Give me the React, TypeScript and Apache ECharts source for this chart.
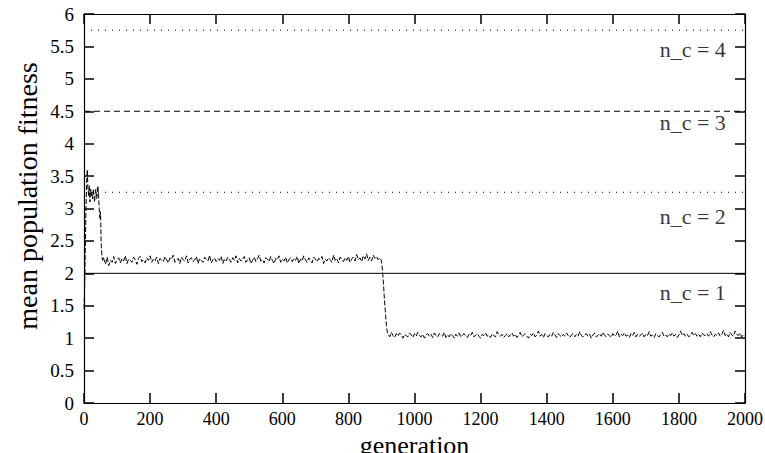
import React, { useEffect, useRef } from "react";
import * as echarts from "echarts";

// early transient (generation, fitness)
const earlyGen = [0, 2, 4, 6, 8, 10, 12, 14, 16, 18, 20, 22, 24, 26, 28, 30, 32, 34, 36, 38, 40, 42, 44, 46, 48, 50, 52, 54, 56, 58];
const earlyFit = [1.45, 1.8, 2.4, 3.0, 3.4, 3.6, 3.3, 3.2, 3.35, 3.1, 3.3, 3.2, 3.25, 3.15, 3.3, 3.2, 3.1, 3.25, 3.3, 3.15, 3.2, 3.35, 3.2, 3.0, 2.85, 2.95, 2.45, 2.3, 2.2, 2.25];

// first plateau, generations 60..895 every 5
const plateau1Start = 60;
const plateau1Step = 5;
const plateau1 = [
  2.22, 2.14, 2.25, 2.12, 2.2, 2.17, 2.26, 2.15, 2.21, 2.24, 2.16, 2.23,
  2.19, 2.27, 2.15, 2.22, 2.2, 2.17, 2.25, 2.21, 2.14, 2.23, 2.26, 2.18,
  2.21, 2.16, 2.24, 2.2, 2.27, 2.17, 2.22, 2.19, 2.25, 2.15, 2.23, 2.2,
  2.18, 2.26, 2.21, 2.16, 2.24, 2.22, 2.28, 2.17, 2.2, 2.23, 2.15, 2.25,
  2.21, 2.19, 2.27, 2.16, 2.22, 2.24, 2.18, 2.21, 2.26, 2.15, 2.23, 2.2,
  2.17, 2.25, 2.22, 2.19, 2.28, 2.16, 2.21, 2.24, 2.18, 2.23, 2.2, 2.26,
  2.15, 2.22, 2.19, 2.25, 2.21, 2.17, 2.24, 2.2, 2.27, 2.16, 2.23, 2.19,
  2.22, 2.26, 2.17, 2.21, 2.24, 2.15, 2.2, 2.25, 2.18, 2.23, 2.28, 2.19,
  2.21, 2.16, 2.24, 2.22, 2.18, 2.26, 2.2, 2.15, 2.23, 2.21, 2.27, 2.17,
  2.22, 2.19, 2.25, 2.16, 2.21, 2.24, 2.18, 2.23, 2.2, 2.26, 2.15, 2.22,
  2.19, 2.27, 2.21, 2.17, 2.24, 2.2, 2.16, 2.25, 2.22, 2.18, 2.23, 2.21,
  2.26, 2.15, 2.22, 2.19, 2.24, 2.21, 2.17, 2.28, 2.2, 2.23, 2.16, 2.25,
  2.21, 2.18, 2.24, 2.2, 2.26, 2.17, 2.22, 2.25, 2.19, 2.29, 2.21, 2.24,
  2.18, 2.27, 2.22, 2.3, 2.2, 2.25, 2.19, 2.28, 2.23, 2.26, 2.21, 2.24,
];

// transition
const dropGen = [900, 903, 906, 909, 912, 915, 918];
const dropFit = [2.2, 2.05, 1.85, 1.6, 1.4, 1.2, 1.08];

// second plateau, generations 920..2000 every 5
const plateau2Start = 920;
const plateau2Step = 5;
const plateau2 = [
  1.06, 1.02, 1.09, 1.04, 1.01, 1.07, 1.03, 1.08, 1.05, 1.0, 1.06, 1.04,
  1.02, 1.08, 1.05, 1.01, 1.07, 1.03, 1.09, 1.04, 1.02, 1.06, 1.0, 1.05,
  1.07, 1.03, 1.06, 1.01, 1.08, 1.04, 1.02, 1.07, 1.05, 1.03, 1.09, 1.01,
  1.05, 1.02, 1.07, 1.04, 1.0, 1.06, 1.03, 1.08, 1.02, 1.05, 1.07, 1.03,
  1.01, 1.06, 1.04, 1.09, 1.02, 1.05, 1.07, 1.03, 1.0, 1.06, 1.04, 1.08,
  1.03, 1.05, 1.01, 1.07, 1.04, 1.02, 1.1, 1.05, 1.03, 1.06, 1.01, 1.04,
  1.07, 1.02, 1.05, 1.08, 1.03, 1.06, 1.01, 1.04, 1.09, 1.02, 1.05, 1.07,
  1.03, 1.0, 1.06, 1.04, 1.08, 1.02, 1.05, 1.11, 1.03, 1.06, 1.01, 1.07,
  1.04, 1.02, 1.06, 1.03, 1.09, 1.05, 1.01, 1.07, 1.04, 1.02, 1.06, 1.03,
  1.08, 1.04, 1.01, 1.05, 1.07, 1.02, 1.06, 1.03, 1.1, 1.04, 1.02, 1.05,
  1.07, 1.03, 1.06, 1.0, 1.05, 1.08, 1.02, 1.04, 1.07, 1.03, 1.09, 1.05,
  1.02, 1.06, 1.04, 1.01, 1.07, 1.03, 1.05, 1.11, 1.02, 1.06, 1.04, 1.08,
  1.03, 1.05, 1.01, 1.07, 1.04, 1.09, 1.02, 1.06, 1.03, 1.05, 1.08, 1.02,
  1.06, 1.04, 1.1, 1.03, 1.05, 1.01, 1.07, 1.04, 1.02, 1.06, 1.09, 1.03,
  1.05, 1.02, 1.07, 1.04, 1.08, 1.03, 1.06, 1.01, 1.05, 1.11, 1.04, 1.07,
  1.03, 1.06, 1.02, 1.05, 1.09, 1.04, 1.07, 1.03, 1.06, 1.02, 1.08, 1.05,
  1.04, 1.07, 1.03, 1.1, 1.05, 1.02, 1.06, 1.04, 1.08, 1.03, 1.06, 1.12,
  1.04, 1.07, 1.02, 1.09, 1.05, 1.03, 1.11, 1.06, 1.04, 1.08, 1.02, 1.05,
  1.03,
];

// threshold lines between niche counts
const thresholdValues = [2, 3.25, 4.5, 5.75];
const thresholdTypes = ["solid", "dotted", "dashed", "dotted"];
const nicheLabels = ["n_c = 1", "n_c = 2", "n_c = 3", "n_c = 4"];
const nicheLabelY = [1.71, 2.87, 4.32, 5.45];
const nicheLabelX = 1942;

const xTicks = { min: 0, max: 2000, interval: 200 };
const yTicks = { min: 0, max: 6, interval: 0.5 };

const FONT = "Liberation Serif";

export default function App() {
  const ref = useRef<HTMLDivElement>(null);
  useEffect(() => {
    if (!ref.current) return;
    const chart = echarts.init(ref.current, null, { renderer: "svg" });

    const fitnessData: number[][] = [];
    earlyGen.forEach((g, i) => fitnessData.push([g, earlyFit[i]]));
    plateau1.forEach((v, i) => fitnessData.push([plateau1Start + i * plateau1Step, v]));
    dropGen.forEach((g, i) => fitnessData.push([g, dropFit[i]]));
    plateau2.forEach((v, i) => fitnessData.push([plateau2Start + i * plateau2Step, v]));

    const thresholdSeries = thresholdValues.map((v, i) => ({
      type: "line",
      data: [[xTicks.min, v], [xTicks.max, v]],
      symbol: "none",
      silent: true,
      lineStyle: {
        color: "#000",
        width: 1,
        type: thresholdTypes[i] === "dotted" ? [1, 6] : thresholdTypes[i] === "dashed" ? [6, 4] : "solid",
      },
      z: 3,
    }));

    const axisLineStyle = { show: true, onZero: false, lineStyle: { color: "#000", width: 1.2 } };
    const tick = { show: true, inside: true, length: 10, lineStyle: { color: "#000", width: 1.5 } };

    chart.setOption({
      animation: false,
      grid: { left: 84, right: 20, top: 14, bottom: 50, containLabel: false, outerBoundsMode: "none" },
      graphic: [
        {
          type: "text",
          x: 27,
          y: 196,
          rotation: Math.PI / 2,
          style: {
            text: "mean population fitness",
            font: "28px Liberation Serif",
            fill: "#000",
            align: "center",
            verticalAlign: "middle",
          },
        },
      ],
      xAxis: [
        {
          type: "value",
          min: xTicks.min,
          max: xTicks.max,
          interval: xTicks.interval,
          name: "generation",
          nameLocation: "middle",
          nameGap: 22,
          nameTextStyle: { fontFamily: FONT, fontSize: 26, color: "#000" },
          axisLine: axisLineStyle,
          axisTick: tick,
          splitLine: { show: false },
          axisLabel: { fontFamily: FONT, fontSize: 18, color: "#000", margin: 7, formatter: (v: number) => String(v) },
        },
        {
          type: "value",
          position: "top",
          min: xTicks.min,
          max: xTicks.max,
          interval: xTicks.interval,
          axisLine: axisLineStyle,
          axisTick: tick,
          splitLine: { show: false },
          axisLabel: { show: false },
        },
      ],
      yAxis: [
        {
          type: "value",
          min: yTicks.min,
          max: yTicks.max,
          interval: yTicks.interval,
          axisLine: axisLineStyle,
          axisTick: tick,
          splitLine: { show: false },
          axisLabel: { fontFamily: FONT, fontSize: 19, color: "#000", margin: 10 },
        },
        {
          type: "value",
          position: "right",
          min: yTicks.min,
          max: yTicks.max,
          interval: yTicks.interval,
          axisLine: axisLineStyle,
          axisTick: tick,
          splitLine: { show: false },
          axisLabel: { show: false },
        },
      ],
      series: [
        ...thresholdSeries,
        {
          type: "line",
          data: fitnessData,
          symbol: "none",
          silent: true,
          lineStyle: { color: "#000", width: 1, type: [5, 2] },
          z: 4,
        },
        {
          type: "scatter",
          symbolSize: 0,
          silent: true,
          data: nicheLabels.map((name, i) => ({ name, value: [nicheLabelX, nicheLabelY[i]] })),
          label: {
            show: true,
            position: "left",
            distance: 0,
            formatter: (p: any) => p.name,
            fontFamily: FONT,
            fontSize: 22,
            color: "#000",
          },
          z: 5,
        },
      ],
    });
    return () => chart.dispose();
  }, []);
  return <div ref={ref} style={{ position: "fixed", left: 0, top: 0, width: 765, height: 453, background: "#fff" }} />;
}
